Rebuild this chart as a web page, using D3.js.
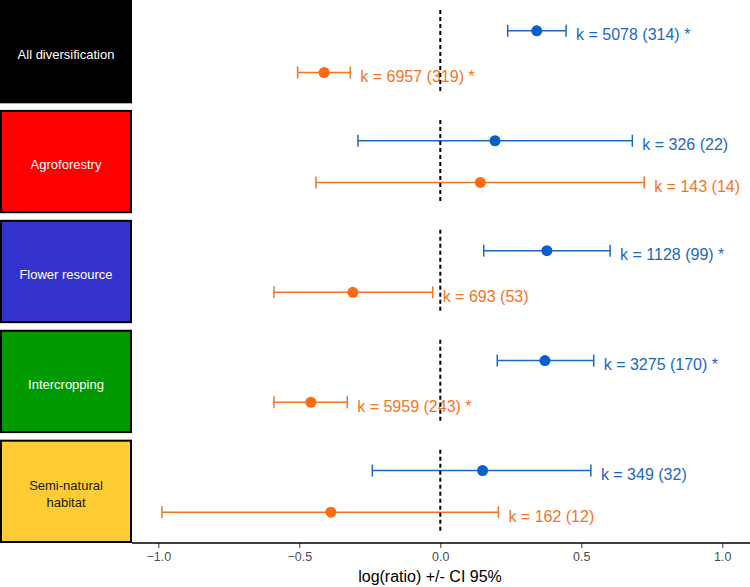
<!DOCTYPE html>
<html>
<head>
<meta charset="utf-8">
<script src="https://cdn.jsdelivr.net/npm/d3@7"></script>
<style>
  body { margin: 0; background: #fff; }
  svg { display: block; font-family: "Liberation Sans", Arial, sans-serif; }
</style>
</head>
<body>
<div id="chart"></div>
<script>
// facets (top to bottom)
const categories = ["All diversification", "Agroforestry", "Flower resource", "Intercropping", "Semi-natural habitat"];
const stripLines = [["All diversification"], ["Agroforestry"], ["Flower resource"], ["Intercropping"], ["Semi-natural", "habitat"]];

// two outcomes per facet: blue (upper) and orange (lower)
const series = ["blue", "orange"];

const blueEst = [0.342, 0.194, 0.378, 0.371, 0.150];
const blueLo  = [0.239, -0.292, 0.154, 0.202, -0.241];
const blueHi  = [0.446, 0.681, 0.602, 0.544, 0.534];
const blueK   = ["k = 5078 (314) *", "k = 326 (22)", "k = 1128 (99) *", "k = 3275 (170) *", "k = 349 (32)"];

const orangeEst = [-0.412, 0.142, -0.310, -0.459, -0.388];
const orangeLo  = [-0.506, -0.441, -0.590, -0.590, -0.987];
const orangeHi  = [-0.319, 0.723, -0.027, -0.330, 0.206];
const orangeK   = ["k = 6957 (319) *", "k = 143 (14)", "k = 693 (53)", "k = 5959 (243) *", "k = 162 (12)"];

const xTicks = [-1, -0.5, 0, 0.5, 1];

// styles
const stripFill = ["#000000", "#ff0000", "#3333cc", "#009900", "#ffcc33"];
const stripText = ["#ffffff", "#ffffff", "#ffffff", "#ffffff", "#1a1a1a"];
const seriesColor = { blue: "#1a68c6", orange: "#f47424" };
const dotColor = { blue: "#0a5fcd", orange: "#ff6a10" };

const W = 750, H = 587;
const stripW = 132;
const axisY = 543;

// build rows
const rows = [];
categories.forEach((c, i) => {
  rows.push({ cat: c, s: "blue", est: blueEst[i], lo: blueLo[i], hi: blueHi[i], k: blueK[i] });
  rows.push({ cat: c, s: "orange", est: orangeEst[i], lo: orangeLo[i], hi: orangeHi[i], k: orangeK[i] });
});

const svg = d3.select("#chart").append("svg")
  .attr("width", W).attr("height", H);

const x = d3.scaleLinear().domain([-1, 1]).range([158.3, 722.3]);

const facet = d3.scaleBand().domain(categories).range([0, axisY]).paddingInner(0.06).paddingOuter(0);
const inner = d3.scalePoint().domain(series).range([0, facet.bandwidth()]).padding(0.74);

const yOf = d => facet(d.cat) + inner(d.s);

// strips on the left
const strips = svg.append("g").selectAll("g")
  .data(categories)
  .join("g");

strips.append("rect")
  .attr("x", 1)
  .attr("y", d => facet(d) + 1)
  .attr("width", stripW - 2)
  .attr("height", facet.bandwidth() - 2)
  .attr("fill", (d, i) => stripFill[i])
  .attr("stroke", "#000")
  .attr("stroke-width", 2);

strips.each(function (d, i) {
  const lines = stripLines[i];
  const cy = facet(d) + facet.bandwidth() / 2;
  const lh = 17;
  const t = d3.select(this).append("text")
    .attr("text-anchor", "middle")
    .attr("font-size", 13)
    .attr("fill", stripText[i]);
  lines.forEach((ln, j) => {
    t.append("tspan")
      .attr("x", stripW / 2)
      .attr("y", cy + 7.5 + (j - (lines.length - 1) / 2) * lh)
      .text(ln);
  });
});

// error bars
const g = svg.append("g");
const capH = 6;

g.selectAll("line.bar")
  .data(rows)
  .join("line")
  .attr("class", "bar")
  .attr("x1", d => x(d.lo)).attr("x2", d => x(d.hi))
  .attr("y1", yOf).attr("y2", yOf)
  .attr("stroke", d => seriesColor[d.s])
  .attr("stroke-width", 1.5);

g.selectAll("line.capl")
  .data(rows)
  .join("line")
  .attr("class", "capl")
  .attr("x1", d => x(d.lo)).attr("x2", d => x(d.lo))
  .attr("y1", d => yOf(d) - capH).attr("y2", d => yOf(d) + capH)
  .attr("stroke", d => seriesColor[d.s])
  .attr("stroke-width", 1.5);

g.selectAll("line.capr")
  .data(rows)
  .join("line")
  .attr("class", "capr")
  .attr("x1", d => x(d.hi)).attr("x2", d => x(d.hi))
  .attr("y1", d => yOf(d) - capH).attr("y2", d => yOf(d) + capH)
  .attr("stroke", d => seriesColor[d.s])
  .attr("stroke-width", 1.5);

g.selectAll("circle")
  .data(rows)
  .join("circle")
  .attr("cx", d => x(d.est))
  .attr("cy", yOf)
  .attr("r", 5.5)
  .attr("fill", d => dotColor[d.s]);

g.selectAll("text.k")
  .data(rows)
  .join("text")
  .attr("class", "k")
  .attr("x", d => x(d.hi) + 10)
  .attr("y", d => yOf(d) + 9.5)
  .attr("font-size", 16)
  .attr("fill", d => seriesColor[d.s])
  .text(d => d.k);

// zero reference line per facet
svg.append("g").selectAll("line")
  .data(categories)
  .join("line")
  .attr("x1", x(0)).attr("x2", x(0))
  .attr("y1", d => facet(d) + 10)
  .attr("y2", d => facet(d) + facet.bandwidth() - 10)
  .attr("stroke", "#000")
  .attr("stroke-width", 2)
  .attr("stroke-dasharray", "4,3");

// x axis
const xAxis = d3.axisBottom(x)
  .tickValues(xTicks)
  .tickFormat(d3.format(".1f"))
  .tickSize(5)
  .tickPadding(4);

const ax = svg.append("g")
  .attr("transform", `translate(0,${axisY})`)
  .call(xAxis);

ax.select(".domain").remove();
ax.append("line")
  .attr("x1", stripW).attr("x2", W)
  .attr("y1", 0).attr("y2", 0)
  .attr("stroke", "#000").attr("stroke-width", 1.5);
ax.selectAll(".tick line").attr("stroke", "#333").attr("stroke-width", 1);
ax.selectAll(".tick text")
  .attr("font-family", "Liberation Sans, Arial, sans-serif")
  .attr("font-size", 12.5)
  .attr("fill", "#4d4d4d");

svg.append("text")
  .attr("x", 430)
  .attr("y", 582)
  .attr("text-anchor", "middle")
  .attr("font-size", 16)
  .attr("fill", "#000")
  .text("log(ratio) +/- CI 95%");
</script>
</body>
</html>
